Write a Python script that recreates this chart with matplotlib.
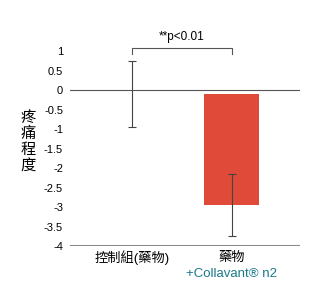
import numpy as np
import matplotlib.pyplot as plt

plt.rcParams["font.family"] = ["Liberation Sans", "Noto Sans CJK TC", "DejaVu Sans"]

groups = ["控制組(藥物)", "藥物"]
means = [-0.1, -2.95]
err_low = [0.85, 0.8]
err_high = [0.85, 0.8]
bar_base = -0.1
yticks = [1, 0.5, 0, -0.5, -1, -1.5, -2, -2.5, -3, -3.5, -4]

fig = plt.figure(figsize=(3.21, 2.85), dpi=100)
ax = fig.add_axes([0.218, 0.1368, 0.7165, 0.7253])

x = np.arange(len(groups))
ax.bar(x[1], means[1] - bar_base, bottom=bar_base, width=0.55, color="#E04A38",
       zorder=2)
ax.errorbar(x, means, yerr=[err_low, err_high], fmt="none", ecolor="#444444",
            elinewidth=0.8, capsize=3, capthick=0.8, zorder=3)

ax.axhline(0, color="#555555", lw=0.8, zorder=1)
ax.axhline(-4, color="#8a8a8a", lw=2.2, zorder=1)

ax.set_xlim(-0.623, 1.688)
ax.set_ylim(-4, 1.3)
ax.set_yticks(yticks)
ax.set_yticklabels([f"{t:g}" for t in yticks], fontsize=8)
ax.tick_params(axis="y", length=0, pad=5)
ax.set_xticks([])
for s in ax.spines.values():
    s.set_visible(False)

# significance bracket
by, bt = 1.077, 0.92
ax.plot([x[0], x[0], x[1], x[1]], [bt, by, by, bt], color="#555555", lw=0.8,
        clip_on=False)
ax.text((x[0] + x[1]) / 2, 1.2, "**p<0.01", ha="center", va="bottom",
        fontsize=8.5, clip_on=False)

# x labels
ax.text(x[0], -4.3, groups[0], ha="center", va="center", fontsize=9.5)
ax.text(x[1], -4.3, groups[1], ha="center", va="center", fontsize=9.5)
ax.text(x[1], -4.73, "+Collavant® n2", ha="center", va="center", fontsize=9.5,
        color="#1B7A8A")

# y label stacked vertically
fig.text(28 / 321, 1 - 142 / 285, "疼\n痛\n程\n度", ha="center", va="center",
         fontsize=11, linespacing=1.15)

fig.savefig("out.png", dpi=100)
